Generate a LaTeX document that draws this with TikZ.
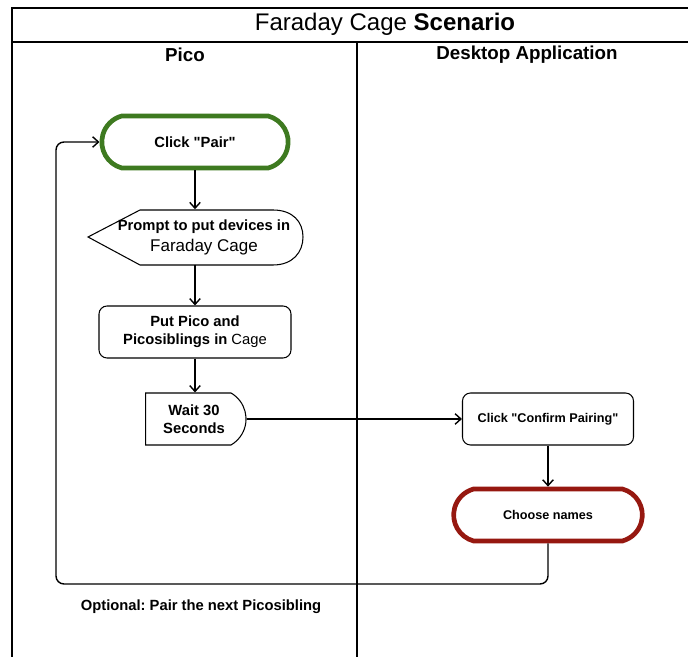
\documentclass[tikz,border=0pt]{standalone}
\usepackage{fontspec}
\setmainfont{Liberation Sans}[Ligatures=TeXOff]
\usepackage{xcolor}
\usetikzlibrary{shapes.misc,positioning,arrows.meta,calc}

\definecolor{pairgreen}{RGB}{62,122,32}
\definecolor{namesred}{RGB}{150,24,16}
\newcommand{\boxfont}{\fontsize{12.6}{15.5}\selectfont\bfseries}
\newcommand{\appfont}{\fontsize{10.8}{13}\selectfont\bfseries}
\frenchspacing

\begin{document}
\begin{tikzpicture}[x=0.03cm, y=-0.03cm,
        every node/.style={align=center, inner sep=2pt},
        stepbox/.style={draw, rounded corners=0.24cm, line width=0.9pt,
                minimum height=1.56cm, font=\boxfont},
        terminal/.style={draw, rounded rectangle, rounded rectangle arc length=150,
                line width=4pt, minimum height=1.56cm},
        arrow/.style={-{Straight Barb[length=5pt,width=9pt]}, line width=1.2pt},
        lane/.style={line width=1.3pt}
        ]
        \useasboundingbox (0,0) rectangle (688,657);

        % ---------------- Swimlanes ----------------
        \node (title)   at (385,24) {\fontsize{20.5}{24}\selectfont Faraday Cage \textbf{Scenario}};
        \node (pico)    at (185,55) {\fontsize{16}{19}\selectfont\bfseries Pico};
        \node (desktop) at (527,55) {\fontsize{16}{19}\selectfont\bfseries Desktop Application};
        \draw[lane] (688,8) -- (12,8) -- (12,657);
        \draw[lane] (12,42) -- (688,42);
        \draw[lane] (357,42) -- (357,657);

        % ---------------- Pico side ----------------
        \node[terminal, draw=pairgreen, minimum width=5.73cm, font=\boxfont] (pair) at (195,142) {Click "Pair"};
        \node[minimum height=1.65cm, font=\fontsize{12.6}{18}\selectfont\bfseries] (prompt) at (204,237)
                {Prompt to put devices in\\{\mdseries\fontsize{14.5}{18}\selectfont Faraday Cage}};
        \draw[line width=0.9pt] (prompt.center) ++(-116,0) -- ++(52,-27) -- ++(133,0)
                .. controls +(20,0) and +(0,-15) .. ++(30,27)
                .. controls +(0,15) and +(20,0) .. ++(-30,28) -- ++(-133,0) -- cycle;
        \node[stepbox, minimum width=5.76cm] (putcage) at (195,332)
                {Put Pico and\\Picosiblings in {\mdseries Cage}};
        \node[stepbox, rounded corners=0pt, rounded rectangle, rounded rectangle west arc=none,
                rounded rectangle arc length=120, minimum width=3.15cm] (wait) at (194,419)
                {Wait 30\\Seconds};

        % ---------------- Desktop side ----------------
        \node[stepbox, minimum width=5.13cm, font=\appfont] (confirm) at (548,419) {Click "Confirm Pairing"};
        \node[terminal, draw=namesred, minimum width=5.8cm, font=\appfont] (names) at (548,515) {Choose names};

        % ---------------- Arrows ----------------
        \draw[arrow] (pair.south) -- (pair.south |- prompt.north);
        \draw[arrow] (pair.south |- prompt.south) -- (putcage.north);
        \draw[arrow] (putcage.south) -- (putcage.south |- wait.north);
        \draw[arrow] (wait.east) -- (confirm.west);
        \draw[arrow] (confirm.south) -- (names.north);

        % ---------------- Optional loop ----------------
        \coordinate (loopcorner) at (56,584);
        \draw[arrow, rounded corners=0.24cm] (names.south) |- (loopcorner) |- (pair.west);
        \node[font=\boxfont] (optional) at (201,607) {Optional: Pair the next Picosibling};

\end{tikzpicture}
\end{document}
